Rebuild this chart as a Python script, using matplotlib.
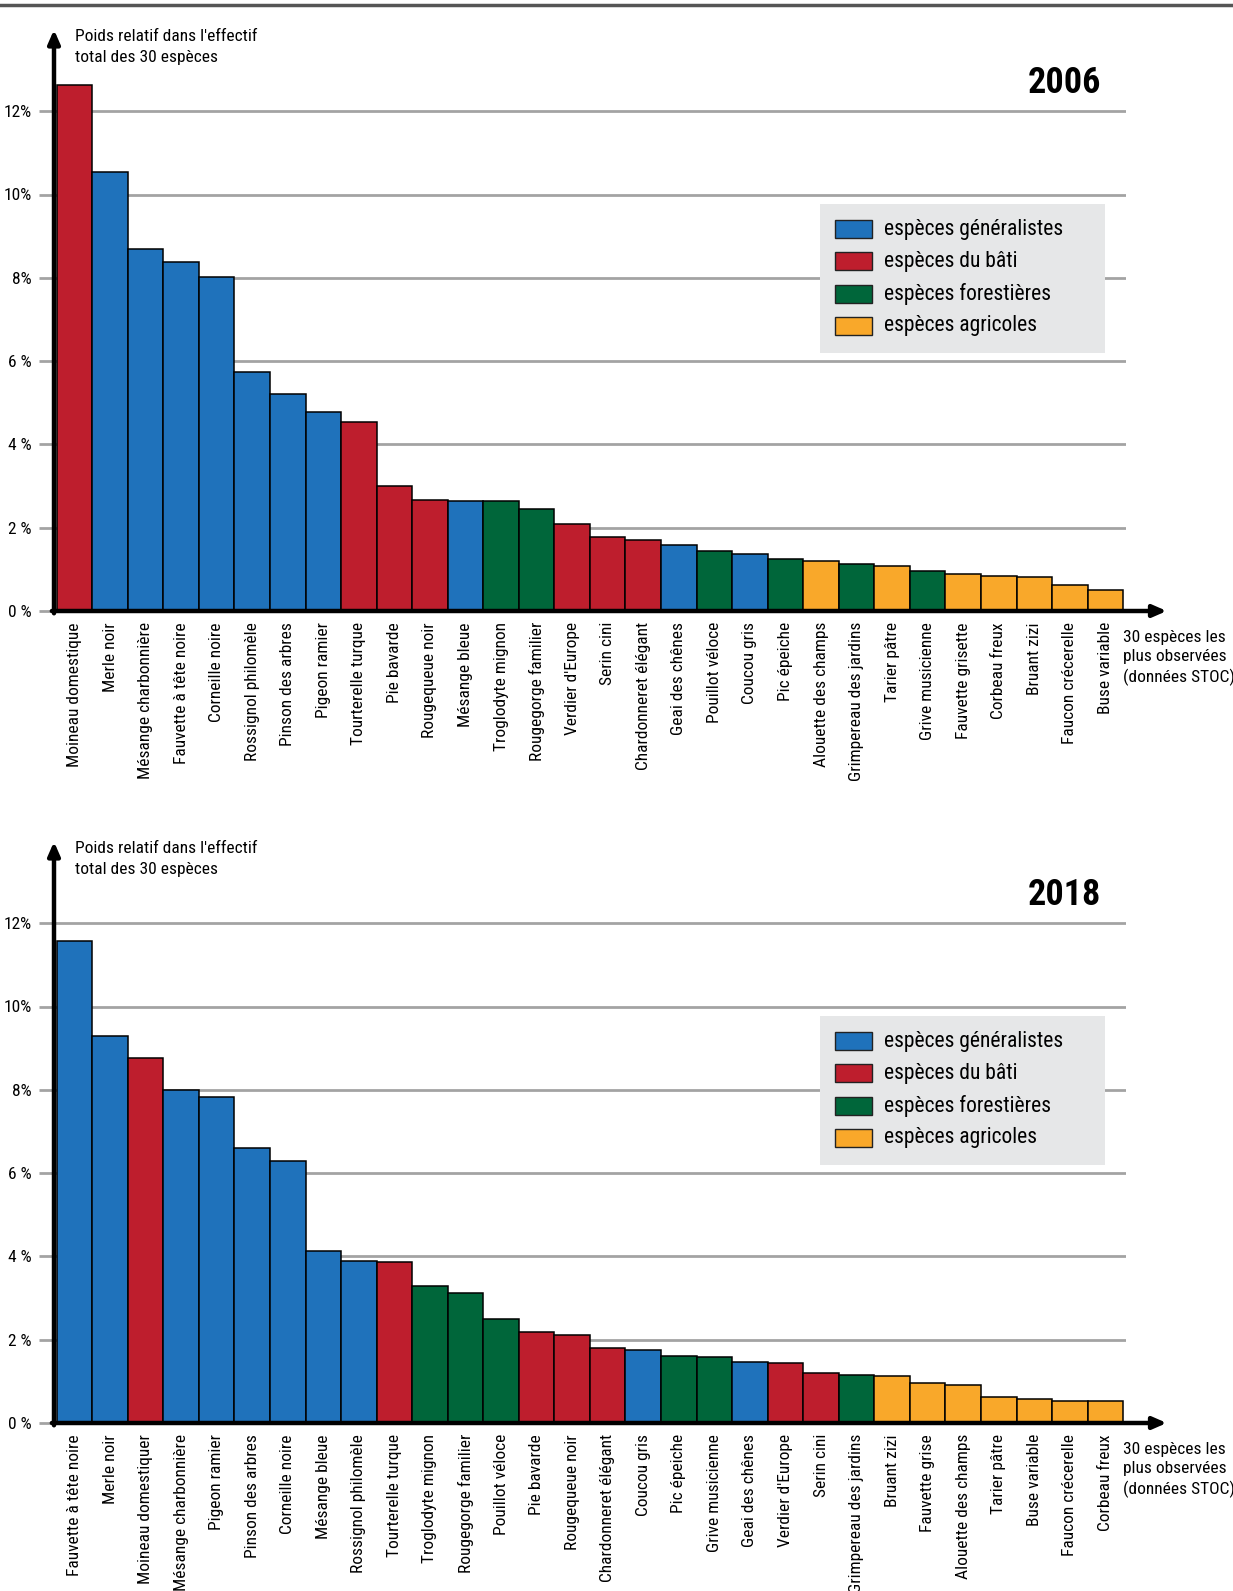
import matplotlib.pyplot as plt
from matplotlib.patches import Rectangle
from matplotlib.lines import Line2D

plt.rcParams['font.family'] = ['Roboto Condensed', 'DejaVu Sans']

# --- data ---
names_2006 = ["Moineau domestique", "Merle noir", "Mésange charbonnière", "Fauvette à tête noire",
              "Corneille noire", "Rossignol philomèle", "Pinson des arbres", "Pigeon ramier",
              "Tourterelle turque", "Pie bavarde", "Rougequeue noir", "Mésange bleue",
              "Troglodyte mignon", "Rougegorge familier", "Verdier d'Europe", "Serin cini",
              "Chardonneret élégant", "Geai des chênes", "Pouillot véloce", "Coucou gris",
              "Pic épeiche", "Alouette des champs", "Grimpereau des jardins", "Tarier pâtre",
              "Grive musicienne", "Fauvette grisette", "Corbeau freux", "Bruant zizi",
              "Faucon crécerelle", "Buse variable"]
values_2006 = [12.64, 10.54, 8.70, 8.38, 8.01, 5.74, 5.21, 4.78, 4.54, 3.01,
               2.67, 2.63, 2.63, 2.44, 2.08, 1.78, 1.71, 1.59, 1.43, 1.36,
               1.24, 1.21, 1.14, 1.07, 0.97, 0.88, 0.84, 0.81, 0.63, 0.51]
groups_2006 = ["bati", "gen", "gen", "gen", "gen", "gen", "gen", "gen", "bati", "bati",
               "bati", "gen", "for", "for", "bati", "bati", "bati", "gen", "for", "gen",
               "for", "agr", "for", "agr", "for", "agr", "agr", "agr", "agr", "agr"]

names_2018 = ["Fauvette à tête noire", "Merle noir", "Moineau domestiquer", "Mésange charbonnière",
              "Pigeon ramier", "Pinson des arbres", "Corneille noire", "Mésange bleue",
              "Rossignol philomèle", "Tourterelle turque", "Troglodyte mignon", "Rougegorge familier",
              "Pouillot véloce", "Pie bavarde", "Rougequeue noir", "Chardonneret élégant",
              "Coucou gris", "Pic épeiche", "Grive musicienne", "Geai des chênes",
              "Verdier d'Europe", "Serin cini", "Grimpereau des jardins", "Bruant zizi",
              "Fauvette grise", "Alouette des champs", "Tarier pâtre", "Buse variable",
              "Faucon crécerelle", "Corbeau freux"]
values_2018 = [11.57, 9.28, 8.77, 8.00, 7.83, 6.60, 6.29, 4.14, 3.88, 3.86,
               3.29, 3.12, 2.50, 2.18, 2.12, 1.81, 1.75, 1.61, 1.58, 1.47,
               1.43, 1.20, 1.16, 1.13, 0.96, 0.92, 0.63, 0.57, 0.54, 0.52]
groups_2018 = ["gen", "gen", "bati", "gen", "gen", "gen", "gen", "gen", "gen", "bati",
               "for", "for", "for", "bati", "bati", "bati", "gen", "for", "for", "gen",
               "bati", "bati", "for", "agr", "agr", "agr", "agr", "agr", "agr", "agr"]

group_keys = ["gen", "bati", "for", "agr"]
group_labels = ["espèces généralistes", "espèces du bâti", "espèces forestières", "espèces agricoles"]
group_colors = ["#1f72bb", "#be1e2d", "#00663a", "#f9a82a"]
color_of = dict(zip(group_keys, group_colors))

yticks = [0, 2, 4, 6, 8, 10, 12]
ytick_labels = ["0 %", "2 %", "4 %", "6 %", "8%", "10%", "12%"]

W, H = 1233, 1591
fig = plt.figure(figsize=(W / 100, H / 100), dpi=100)
fig.add_artist(Line2D([0, 1], [1 - 5 / H, 1 - 5 / H], color="#555555", lw=2.5))

px_per_pct = 41.65


def panel(off, names, values, groups, year):
    left, right, bottom, top = 54, 1126, 611 + off, 40 + off
    ax = fig.add_axes([left / W, 1 - bottom / H, (right - left) / W, (bottom - top) / H])
    x0 = 56.7 - left
    bw = 35.55
    ax.set_xlim(-x0 / bw, -x0 / bw + (right - left) / bw)
    ax.set_ylim(0, (bottom - top) / px_per_pct)
    ax.bar(range(len(values)), values, width=1, align="edge",
           color=[color_of[g] for g in groups], edgecolor="black", linewidth=1.1, zorder=3)
    ax.set_yticks(yticks)
    ax.set_yticklabels(ytick_labels)
    ax.grid(axis="y", color="#a3a3a3", lw=2, zorder=0)
    ax.tick_params(axis="y", length=11, width=2, color="#a3a3a3", pad=5, labelsize=12.5)
    ax.set_xticks([i + 0.5 for i in range(len(names))])
    ax.set_xticklabels(names, rotation=90, va="top", ha="center")
    ax.tick_params(axis="x", length=0, pad=8, labelsize=12.5)
    for s in ax.spines.values():
        s.set_visible(False)
    ax.set_facecolor("none")
    ax.annotate("", xy=(0, 1.018), xytext=(0, -0.004), xycoords="axes fraction",
                arrowprops=dict(arrowstyle="-|>,head_length=0.8,head_width=0.35", lw=3.2,
                                color="black", shrinkA=0, shrinkB=0), zorder=5)
    ax.annotate("", xy=(1.038, 0), xytext=(-0.002, 0), xycoords="axes fraction",
                arrowprops=dict(arrowstyle="-|>,head_length=0.8,head_width=0.35", lw=3.2,
                                color="black", shrinkA=0, shrinkB=0), zorder=5)

    fig.text(75 / W, 1 - (47 + off) / H, "Poids relatif dans l'effectif\ntotal des 30 espèces",
             ha="left", va="center", fontsize=12.5, linespacing=1.42)
    fig.text(1101 / W, 1 - (83 + off) / H, year, ha="right", va="center",
             fontsize=26, weight="bold")
    fig.text(1123 / W, 1 - (658 + off) / H, "30 espèces les\nplus observées\n(données STOC)",
             ha="left", va="center", fontsize=12.5, linespacing=1.35)

    # legend box
    fig.add_artist(Rectangle((820 / W, 1 - (353 + off) / H), 285 / W, 149 / H,
                             transform=fig.transFigure, facecolor="#e6e7e8", edgecolor="none",
                             zorder=4))
    for i, (lab, col) in enumerate(zip(group_labels, group_colors)):
        yc = 229 + 32.3 * i + off
        fig.add_artist(Rectangle((835 / W, 1 - (yc + 9) / H), 37 / W, 18 / H,
                                 transform=fig.transFigure, facecolor=col,
                                 edgecolor="#222222", lw=1, zorder=5))
        fig.text(884 / W, 1 - yc / H, lab, ha="left", va="center", fontsize=15.5, zorder=6)


panel(0, names_2006, values_2006, groups_2006, "2006")
panel(812, names_2018, values_2018, groups_2018, "2018")

fig.savefig("out.png", dpi=100)
